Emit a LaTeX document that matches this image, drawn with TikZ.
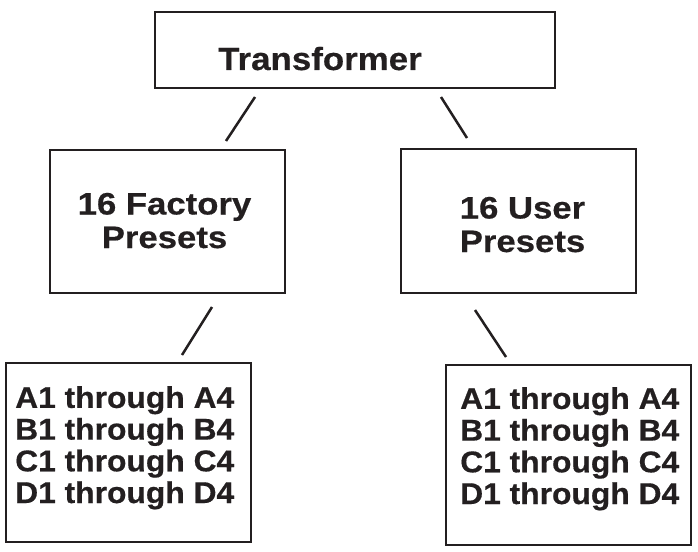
\documentclass[tikz,border=0pt]{standalone}
\usepackage{fontspec}
\newfontfamily\hbA{Liberation Sans Bold}[FakeStretch=1.09,FakeBold=0.5]
\newfontfamily\hbB{Liberation Sans Bold}[FakeStretch=1.12,FakeBold=0.5]
\newfontfamily\hbC{Liberation Sans Bold}[FakeStretch=1.06,FakeBold=0.5]
\definecolor{ink}{HTML}{231F20}
\begin{document}
\begin{tikzpicture}[x=1pt,y=-1pt,
  boxst/.style={draw=ink,line width=2.8pt,rectangle,inner sep=0pt,outer sep=0pt},
  big/.style={inner sep=0pt,anchor=base west,text=ink,font=\hbA\fontsize{32}{34}\selectfont},
  mid/.style={inner sep=0pt,anchor=base,text=ink,align=center,font=\hbB\fontsize{31}{33.5}\selectfont},
  lst/.style={inner sep=0pt,anchor=base west,text=ink,align=left,font=\hbC\fontsize{30}{31.7}\selectfont},
  conn/.style={draw=ink,line width=2.5pt}]
\fill[white] (0,0) rectangle (698,551);
\useasboundingbox (0,0) rectangle (698,551);
% boxes
\node[boxst,minimum width=400pt,minimum height=76pt] (top) at (355,50) {};
\node[boxst,minimum width=235pt,minimum height=143pt] (fac) at (167.5,221.5) {};
\node[boxst,minimum width=235pt,minimum height=144pt] (usr) at (518.5,221) {};
\node[boxst,minimum width=245pt,minimum height=179pt] (facl) at (128.5,452.5) {};
\node[boxst,minimum width=245pt,minimum height=180pt] (usrl) at (568.5,455) {};
% texts (multi-line nodes: base anchor is on the last line)
\node[big] (ttop) at (218,70) {Transformer};
\node[mid] (tfac) at (164.5,248) {16 Factory\\Presets};
\node[mid] (tusr) at (522.5,252) {16 User\\Presets};
\node[lst] (tfacl) at (15,503) {A1 through A4\\B1 through B4\\C1 through C4\\D1 through D4};
\node[lst] (tusrl) at (460,504) {A1 through A4\\B1 through B4\\C1 through C4\\D1 through D4};
% connector ends
\coordinate (c1a) at (255,97);  \coordinate (c1b) at (226,141);
\coordinate (c2a) at (441,97);  \coordinate (c2b) at (467,138);
\coordinate (c3a) at (212,307); \coordinate (c3b) at (182,355);
\coordinate (c4a) at (475,310); \coordinate (c4b) at (506,357);
\draw[conn] (c1a) -- (c1b);
\draw[conn] (c2a) -- (c2b);
\draw[conn] (c3a) -- (c3b);
\draw[conn] (c4a) -- (c4b);
\end{tikzpicture}
\end{document}
